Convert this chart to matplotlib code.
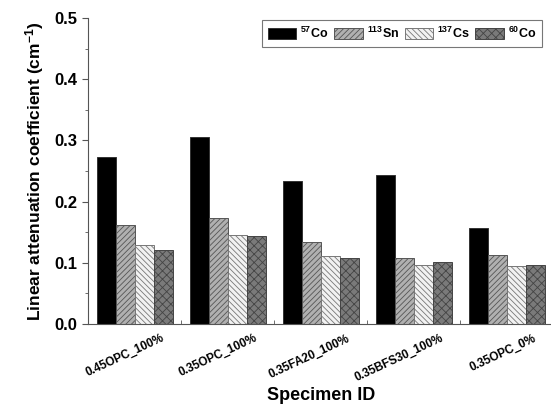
import numpy as np
import matplotlib
matplotlib.use("Agg")
import matplotlib.pyplot as plt
import matplotlib.transforms as mtransforms
from matplotlib.ticker import MultipleLocator, FixedLocator, FormatStrFormatter

# data
specimens = ["0.45OPC_100%", "0.35OPC_100%", "0.35FA20_100%", "0.35BFS30_100%", "0.35OPC_0%"]
sources = [r"$^{57}$Co", r"$^{113}$Sn", r"$^{137}$Cs", r"$^{60}$Co"]
co57 = [0.272, 0.305, 0.233, 0.243, 0.156]
sn113 = [0.161, 0.173, 0.134, 0.108, 0.112]
cs137 = [0.129, 0.145, 0.111, 0.096, 0.094]
co60 = [0.121, 0.143, 0.107, 0.101, 0.096]

plt.rcParams["font.family"] = ["Liberation Sans", "DejaVu Sans"]
plt.rcParams["font.weight"] = "bold"
plt.rcParams["mathtext.fontset"] = "custom"
plt.rcParams["mathtext.rm"] = "Liberation Sans:bold"
plt.rcParams["mathtext.default"] = "rm"
plt.rcParams["hatch.linewidth"] = 0.6

fig = plt.figure(figsize=(5.51, 4.08), dpi=100)
ax = fig.add_axes([0.16, 0.206, 0.844, 0.75])

x = np.arange(1, len(specimens) + 1)
w = 0.205
styles = [
    dict(color="black", edgecolor="#333333", hatch=None),
    dict(color="#b0b0b0", edgecolor="#555555", hatch="//////"),
    dict(color="#f2f2f2", edgecolor="#777777", hatch="\\\\\\\\\\\\"),
    dict(color="#7a7a7a", edgecolor="#444444", hatch="xxxx"),
]
series = [co57, sn113, cs137, co60]
for i, (vals, st) in enumerate(zip(series, styles)):
    ax.bar(x + (i - 1.5) * w, vals, w, color=st["color"], edgecolor=st["edgecolor"],
           hatch=st["hatch"], linewidth=0.7, label=sources[i])

ax.set_xlim(0.5, 5.5)
ax.set_ylim(0, 0.5)
ax.spines["top"].set_visible(False)
ax.spines["right"].set_visible(False)
ax.spines["left"].set_color("#555555")
ax.spines["bottom"].set_color("#555555")

ax.yaxis.set_major_locator(MultipleLocator(0.1))
ax.yaxis.set_minor_locator(MultipleLocator(0.05))
ax.yaxis.set_major_formatter(FormatStrFormatter("%.1f"))
ax.tick_params(axis="y", which="major", direction="out", length=4, labelsize=12, color="#555555")
ax.tick_params(axis="y", which="minor", direction="out", length=2, color="#555555")

ax.set_xticks(x)
ax.set_xticklabels(specimens, rotation=25, ha="right", rotation_mode="anchor", fontsize=8.5)
ax.tick_params(axis="x", which="major", length=0, pad=6)
ax.xaxis.set_minor_locator(FixedLocator([1.5, 2.5, 3.5, 4.5]))
ax.tick_params(axis="x", which="minor", direction="in", length=3, color="#555555")
shift = mtransforms.ScaledTranslation(26 / 100, 0, fig.dpi_scale_trans)
for lbl in ax.get_xticklabels():
    lbl.set_transform(lbl.get_transform() + shift)

ax.set_xlabel("Specimen ID", fontsize=13, fontweight="bold", labelpad=2)
ax.set_ylabel(r"Linear attenuation coefficient (cm$^{-1}$)", fontsize=12.5, fontweight="bold", labelpad=6)

leg = ax.legend(loc="upper right", bbox_to_anchor=(0.989, 1.013), ncol=4, frameon=True,
                fancybox=False, edgecolor="#555555", fontsize=9, handlelength=2.3,
                handleheight=1.0, columnspacing=0.45, handletextpad=0.3, borderpad=0.45)
leg.get_frame().set_linewidth(0.8)

fig.savefig("out.png", dpi=100)
